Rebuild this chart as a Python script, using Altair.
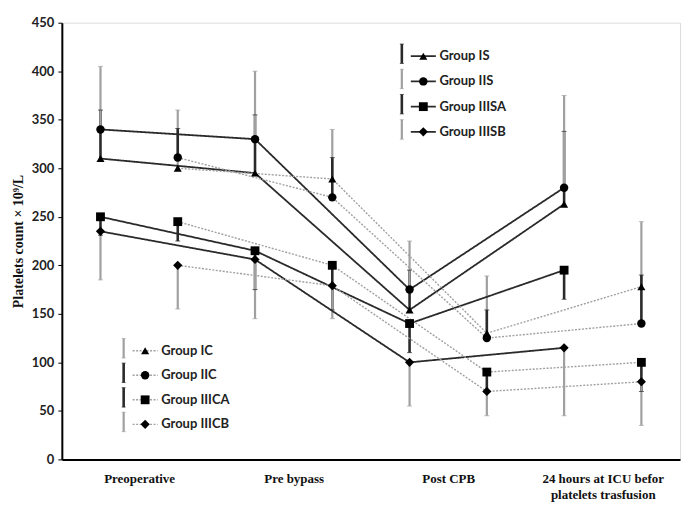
import altair as alt
import pandas as pd

# ---------------- data ----------------
categories = ["Preoperative", "Pre bypass", "Post CPB",
              "24 hours at ICU befor|platelets trasfusion"]

solid_groups = ["Group IS", "Group IIS", "Group IIISA", "Group IIISB"]
dashed_groups = ["Group IC", "Group IIC", "Group IIICA", "Group IIICB"]
marker_kind = ["tri", "circ", "sq", "dia"]
bar_weight = {"Group IS": "thick", "Group IIS": "thin", "Group IIISA": "thick", "Group IIISB": "thin",
              "Group IC": "thin", "Group IIC": "thick", "Group IIICA": "thick", "Group IIICB": "thin"}

# means
IS_vals = [310, 295, 154, 263]
IIS_vals = [340, 330, 175, 280]
IIISA_vals = [250, 215, 140, 195]
IIISB_vals = [235, 206, 100, 115]
IC_vals = [300, 289, 130, 178]
IIC_vals = [311, 270, 125, 140]
IIICA_vals = [245, 200, 90, 100]
IIICB_vals = [200, 179, 70, 80]

# error bar end points (one-sided bars)
IS_err = [360, 355, 195, 338]
IIS_err = [405, 400, 225, 375]
IIISA_err = [231, 175, 110, 165]
IIISB_err = [185, 145, 55, 45]
IC_err = [360, 340, 189, 245]
IIC_err = [341, 311, 154, 190]
IIICA_err = [225, 154, 70, 70]
IIICB_err = [155, 145, 45, 35]

solid_vals = [IS_vals, IIS_vals, IIISA_vals, IIISB_vals]
solid_errs = [IS_err, IIS_err, IIISA_err, IIISB_err]
dashed_vals = [IC_vals, IIC_vals, IIICA_vals, IIICB_vals]
dashed_errs = [IC_err, IIC_err, IIICA_err, IIICB_err]

# ---------------- tables ----------------
rows = []
for style, groups, vals, errs, off in [("solid", solid_groups, solid_vals, solid_errs, 0.25),
                                        ("dashed", dashed_groups, dashed_vals, dashed_errs, 0.75)]:
    for k, g in enumerate(groups):
        for i in range(len(categories)):
            rows.append(dict(group=g, style=style, kind=marker_kind[k], weight=bar_weight[g],
                             x=i + off, value=vals[k][i], err=errs[k][i]))
df = pd.DataFrame(rows)

leg = []
for style, groups, x0, y0, step in [("solid", solid_groups, 2.2, 415.5, 26.0),
                                     ("dashed", dashed_groups, 0.4, 112.0, 25.3)]:
    for k, g in enumerate(groups):
        ly = y0 - step * k
        leg.append(dict(group=g, style=style, kind=marker_kind[k], weight=bar_weight[g],
                        gx=x0, glo=ly - 7.5, ghi=ly + 12.5,
                        lx1=x0 + 0.058, lx2=x0 + 0.22, mx=x0 + 0.139, tx=x0 + 0.243, ly=ly))
ldf = pd.DataFrame(leg)

# ---------------- scales / axes ----------------
xs = alt.Scale(domain=[0, 4], nice=False, zero=False)
ys = alt.Scale(domain=[0, 450], nice=False)

cat_js = "[" + ",".join("'" + c + "'" for c in categories) + "]"
xaxis = alt.Axis(values=[0.5, 1.5, 2.5, 3.5],
                 labelExpr="split(" + cat_js + "[floor(datum.value)], '|')",
                 ticks=False, grid=False, domainColor="#000", domainWidth=2, offset=0,
                 labelFont="Liberation Serif", labelFontWeight="bold", labelFontSize=13,
                 labelColor="#111", labelPadding=13, labelOverlap=False, labelFlush=False,
                 labelLineHeight=16, labelBaseline="top", title=None)
yaxis = alt.Axis(values=list(range(0, 451, 50)), grid=False, tickSize=4, tickColor="#000", offset=0,
                 domainColor="#000", domainWidth=2, labelFont="Lato", labelFontWeight="bold",
                 labelFontSize=13, labelColor="#222", labelPadding=4, format="d",
                 title="Platelets count × 10⁹/L", titleFont="Liberation Serif",
                 titleFontWeight="bold", titleFontSize=14, titleColor="#111", titlePadding=6)


def X(f):
    return alt.X(f, type="quantitative", scale=xs, axis=xaxis)


def Y(f):
    return alt.Y(f, type="quantitative", scale=ys, axis=yaxis)


wcolor = alt.Color("weight:N", scale=alt.Scale(domain=["thick", "thin"], range=["#2a2a2a", "#a0a0a0"]), legend=None)
wwidth = alt.StrokeWidth("weight:N", scale=alt.Scale(domain=["thick", "thin"], range=[2.6, 1.4]), legend=None)
sdash = alt.StrokeDash("style:N", scale=alt.Scale(domain=["solid", "dashed"], range=[[1, 0], [2, 1.5]]), legend=None)
scol = alt.Color("style:N", scale=alt.Scale(domain=["solid", "dashed"], range=["#111111", "#3a3a3a"]), legend=None)
swid = alt.StrokeWidth("style:N", scale=alt.Scale(domain=["solid", "dashed"], range=[2.0, 1.7]), legend=None)
shp = alt.Shape("kind:N", scale=alt.Scale(domain=marker_kind, range=["triangle-up", "circle", "square", "diamond"]), legend=None)
ssz = alt.Size("kind:N", scale=alt.Scale(domain=marker_kind, range=[65, 85, 75, 45]), legend=None)

base = alt.Chart(df)
errbars = base.mark_rule().encode(x=X("x"), y=Y("value"), y2="err", color=wcolor, strokeWidth=wwidth)
caps = base.mark_tick(orient="horizontal", size=5, thickness=1).encode(x=X("x"), y=Y("err"), color=wcolor)
lines = base.mark_line().encode(x=X("x"), y=Y("value"), detail="group:N", strokeDash=sdash,
                                color=scol, strokeWidth=swid)
points = base.mark_point(filled=True, opacity=1, color="#000").encode(x=X("x"), y=Y("value"), shape=shp, size=ssz)

lbase = alt.Chart(ldf)
lglyph = lbase.mark_rule().encode(x=X("gx"), y=Y("glo"), y2="ghi", color=wcolor, strokeWidth=wwidth)
lcap1 = lbase.mark_tick(orient="horizontal", size=4, thickness=1).encode(x=X("gx"), y=Y("glo"), color=wcolor)
lcap2 = lbase.mark_tick(orient="horizontal", size=4, thickness=1).encode(x=X("gx"), y=Y("ghi"), color=wcolor)
lline = lbase.mark_rule().encode(x=X("lx1"), x2="lx2", y=Y("ly"), strokeDash=sdash, color=scol, strokeWidth=swid)
lmark = lbase.mark_point(filled=True, opacity=1, color="#000").encode(x=X("mx"), y=Y("ly"), shape=shp, size=ssz)
ltext = lbase.mark_text(align="left", baseline="middle", font="Lato", fontWeight="bold",
                        fontSize=13, color="#222").encode(x=X("tx"), y=Y("ly"), text="group:N")

chart = alt.layer(errbars, caps, lines, points, lglyph, lcap1, lcap2, lline, lmark, ltext).properties(
    width=620, height=438,
    autosize=alt.AutoSizeParams(type="none"),
    padding={"left": 54, "top": 14, "right": 5, "bottom": 45},
).configure_view(stroke=None).configure(background="white")

chart.save("out.html", embed_options={"renderer": "svg", "actions": False})
